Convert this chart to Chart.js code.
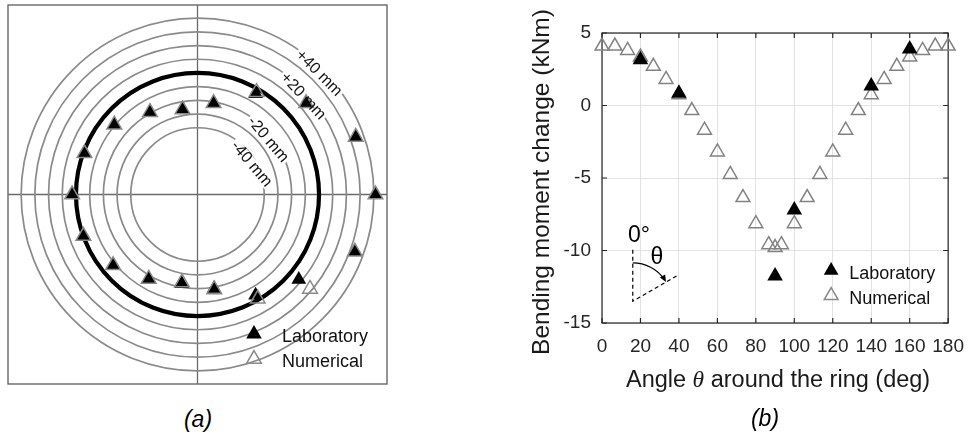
<!DOCTYPE html>
<html lang="en">
<head>
<meta charset="UTF-8">
<title>Ring deformation and bending moment change</title>
<script src="https://cdn.jsdelivr.net/npm/chart.js@4"></script>
<style>
  body { margin: 0; background: #fff; width: 976px; height: 437px; position: relative; overflow: hidden;
         font-family: "Liberation Sans", Arial, sans-serif; }
  #ringChart { position: absolute; left: 0; top: 0; }
  #momentChart { position: absolute; left: 490px; top: 0; }
  .caption { position: absolute; font-style: italic; font-size: 23px; color: #000; transform: translate(-50%, -50%); }
</style>
</head>
<body>
<canvas id="ringChart" width="400" height="400"></canvas>
<canvas id="momentChart" width="486" height="437"></canvas>
<div class="caption" style="left:198px; top:419px">(a)</div>
<div class="caption" style="left:765px; top:418px">(b)</div>

<script>
// ---- (a) ring shape: position round the ring, clockwise from the crown (deg)
const ringAngles = [10, 30, 50, 70, 90, 110, 130, 150, 170, 190, 210, 230, 250, 270, 290, 310, 330, 350];
// radial change of the ring (mm)
const labDeviation = [-21.0, -3.8, 14.8, 34.2, 41.2, 33.5, 7.8, -3.9, -19.0, -22.5, -17.5, -8.3, -0.1, 2.8, -0.9, -9.4, -19.3, -25.7];
const numDeviation = [-21.0, -2.5, 14.8, 34.2, 41.2, 33.5, 18.5, -0.8, -18.3, -23.5, -17.5, -8.3, -0.1, 2.8, -0.9, -9.4, -19.3, -25.7];
// reference rings (mm from the original ring)
const ringLevels = [-40, -30, -20, -10, 0, 10, 20, 30, 40];

// ---- (b) bending moment change vs angle
const numAngle = [0, 6.7, 13.3, 20, 26.7, 33.3, 40, 46.7, 53.3, 60, 66.7, 73.3, 80, 86.7, 90, 93.3,
                  100, 106.7, 113.3, 120, 126.7, 133.3, 140, 146.7, 153.3, 160, 166.7, 173.3, 180];
const numMoment = [4.1, 4.1, 3.8, 3.35, 2.7, 1.8, 0.75, -0.35, -1.7, -3.2, -4.75, -6.35, -8.15, -9.6, -9.8, -9.6,
                   -8.15, -6.35, -4.75, -3.2, -1.7, -0.35, 0.75, 1.8, 2.7, 3.35, 3.8, 4.1, 4.1];
const labAngle = [20, 40, 90, 100, 140, 160];
const labMoment = [3.15, 0.85, -11.75, -7.2, 1.35, 3.9];

Chart.defaults.font.family = '"Liberation Sans", Arial, sans-serif';

// plotted radius of the undeformed ring, same units as the deviations
const baseRadius = 88.7;
const plotHalf = 138.3;

function polarPoint(angle, dev) {
    const r = baseRadius + dev;
    const t = angle * Math.PI / 180;
    return { x: r * Math.sin(t), y: r * Math.cos(t) };
}

function triangle(ctx, x, y, r) {
    ctx.beginPath();
    for (let i = 0; i < 3; i++) {
        const t = i * 2 * Math.PI / 3;
        ctx.lineTo(x + Math.sin(t) * r, y - Math.cos(t) * r);
    }
    ctx.closePath();
}

function legendEntries(ctx, x, y, gap, textX, size) {
    ctx.fillStyle = '#000';
    triangle(ctx, x, y, size + 0.5);
    ctx.fill();
    ctx.strokeStyle = '#8a8a8a';
    ctx.lineWidth = 1.5;
    triangle(ctx, x, y + gap, size);
    ctx.stroke();
    ctx.fillStyle = '#111';
    ctx.font = '18px "Liberation Sans", Arial, sans-serif';
    ctx.textAlign = 'left';
    ctx.textBaseline = 'alphabetic';
    ctx.fillText('Laboratory', textX, y + 8);
    ctx.fillText('Numerical', textX, y + gap + 8);
}

// ring labels sit on their rings, a little inside
const ringTags = [
    { text: '+40 mm', level: 40, at: 45, tilt: 45 },
    { text: '+20 mm', level: 20, at: 47, tilt: 47 },
    { text: '-20 mm', level: -20, at: 52, tilt: 50 },
    { text: '-40 mm', level: -40, at: 60.5, tilt: 50 }
];

const ringDecor = {
    id: 'ringDecor',
    beforeDatasetsDraw(chart) {
        const { ctx, chartArea: a, scales: { x, y } } = chart;
        const cx = x.getPixelForValue(0), cy = y.getPixelForValue(0);
        const k = x.getPixelForValue(1) - cx;
        ctx.save();
        ctx.strokeStyle = '#5c5c5c';
        ctx.lineWidth = 1.3;
        ctx.strokeRect(a.left, a.top, a.width, a.height);
        ctx.strokeStyle = '#6a6a6a';
        ctx.beginPath();
        ctx.moveTo(cx, a.top); ctx.lineTo(cx, a.bottom);
        ctx.moveTo(a.left, cy); ctx.lineTo(a.right, cy);
        ctx.stroke();
        ringLevels.forEach(lv => {
            ctx.beginPath();
            ctx.arc(cx, cy, (baseRadius + lv) * k, 0, 2 * Math.PI);
            ctx.strokeStyle = lv === 0 ? '#000' : '#8a8a8a';
            ctx.lineWidth = lv === 0 ? 4.2 : 1.7;
            ctx.stroke();
        });
        // break the rings under their labels
        ctx.font = '16px "Liberation Sans", Arial, sans-serif';
        ringTags.forEach(tag => {
            const p = polarPoint(tag.at, tag.level - 3.5);
            const w = ctx.measureText(tag.text).width;
            ctx.save();
            ctx.translate(x.getPixelForValue(p.x), y.getPixelForValue(p.y));
            ctx.rotate(tag.tilt * Math.PI / 180);
            ctx.fillStyle = '#fff';
            ctx.fillRect(-w / 2 - 2, -6, w + 4, 12);
            ctx.restore();
        });
        ctx.restore();
    },
    afterDatasetsDraw(chart) {
        const { ctx, chartArea: a, scales: { x, y } } = chart;
        ctx.save();
        ctx.font = '16px "Liberation Sans", Arial, sans-serif';
        ctx.fillStyle = '#111';
        ctx.textAlign = 'center';
        ctx.textBaseline = 'middle';
        ringTags.forEach(tag => {
            const p = polarPoint(tag.at, tag.level - 3.5);
            ctx.save();
            ctx.translate(x.getPixelForValue(p.x), y.getPixelForValue(p.y));
            ctx.rotate(tag.tilt * Math.PI / 180);
            ctx.fillText(tag.text, 0, 0);
            ctx.restore();
        });
        legendEntries(ctx, a.left + 246, a.top + 329, 25, a.left + 274, 8.5);
        ctx.restore();
    }
};

new Chart(document.getElementById('ringChart'), {
    type: 'scatter',
    data: {
        datasets: [{
            label: 'Numerical',
            data: ringAngles.map((ang, i) => polarPoint(ang, numDeviation[i])),
            pointStyle: 'triangle',
            pointRadius: 8.5,
            backgroundColor: 'rgba(255,255,255,0)',
            borderColor: '#8a8a8a',
            borderWidth: 1.5,
            clip: false
        }, {
            label: 'Laboratory',
            data: ringAngles.map((ang, i) => polarPoint(ang, labDeviation[i])),
            pointStyle: 'triangle',
            pointRadius: 8.5,
            backgroundColor: '#000',
            borderWidth: 0,
            clip: false
        }]
    },
    options: {
        responsive: false,
        animation: false,
        events: [],
        layout: { padding: { left: 8, top: 5, right: 13, bottom: 16 }, autoPadding: false },
        plugins: { legend: { display: false }, tooltip: { enabled: false } },
        scales: {
            x: { type: 'linear', min: -plotHalf, max: plotHalf, display: false },
            y: { type: 'linear', min: -plotHalf, max: plotHalf, display: false }
        }
    },
    plugins: [ringDecor]
});

// ---- (b)
const momentDecor = {
    id: 'momentDecor',
    beforeDatasetsDraw(chart) {
        const { ctx, chartArea: a, scales: { x, y } } = chart;
        ctx.save();
        ctx.strokeStyle = '#262626';
        ctx.lineWidth = 1.2;
        ctx.strokeRect(a.left, a.top, a.width, a.height);
        // tick marks point inwards on all four sides
        ctx.beginPath();
        x.ticks.forEach(t => {
            const px = x.getPixelForValue(t.value);
            ctx.moveTo(px, a.bottom); ctx.lineTo(px, a.bottom - 5);
            ctx.moveTo(px, a.top); ctx.lineTo(px, a.top + 5);
        });
        y.ticks.forEach(t => {
            const py = y.getPixelForValue(t.value);
            ctx.moveTo(a.left, py); ctx.lineTo(a.left + 5, py);
            ctx.moveTo(a.right, py); ctx.lineTo(a.right - 5, py);
        });
        ctx.stroke();

        // small sketch of how theta is measured
        const cx = x.getPixelForValue(16), cy = y.getPixelForValue(-13.5);
        const topY = y.getPixelForValue(-9.95);
        const ex = x.getPixelForValue(38.8), ey = y.getPixelForValue(-11.75);
        ctx.strokeStyle = '#000';
        ctx.lineWidth = 1.2;
        ctx.setLineDash([4, 3]);
        ctx.beginPath();
        ctx.moveTo(cx, topY); ctx.lineTo(cx, cy); ctx.lineTo(ex, ey);
        ctx.stroke();
        ctx.setLineDash([]);
        const rad = cy - y.getPixelForValue(-10.85);
        const end = Math.atan2(ey - cy, ex - cx);
        ctx.beginPath();
        ctx.arc(cx, cy, rad, -Math.PI / 2, end - 0.08);
        ctx.stroke();
        const hx = cx + rad * Math.cos(end), hy = cy + rad * Math.sin(end);
        const dx = -Math.sin(end), dy = Math.cos(end);
        ctx.beginPath();
        ctx.moveTo(hx, hy);
        ctx.lineTo(hx - dx * 7 - dy * 3, hy - dy * 7 + dx * 3);
        ctx.lineTo(hx - dx * 7 + dy * 3, hy - dy * 7 - dx * 3);
        ctx.closePath();
        ctx.fillStyle = '#000';
        ctx.fill();
        ctx.font = '23px "Liberation Sans", Arial, sans-serif';
        ctx.textAlign = 'center';
        ctx.textBaseline = 'middle';
        ctx.fillText('0°', x.getPixelForValue(19.2), y.getPixelForValue(-9.0));
        ctx.fillText('θ', x.getPixelForValue(28.6), y.getPixelForValue(-10.5));
        ctx.restore();
    },
    afterDatasetsDraw(chart) {
        const { ctx, chartArea: a } = chart;
        ctx.save();
        // axis titles
        const reg = '23.5px "Liberation Sans", Arial, sans-serif';
        const ita = 'italic 23.5px "Liberation Serif", serif';
        const parts = [['Angle ', reg], ['θ', ita], [' around the ring (deg)', reg]];
        let total = 0;
        parts.forEach(p => { ctx.font = p[1]; total += ctx.measureText(p[0]).width; });
        let tx = (a.left + a.right) / 2 + 3 - total / 2;
        ctx.fillStyle = '#1a1a1a';
        ctx.textAlign = 'left';
        ctx.textBaseline = 'alphabetic';
        parts.forEach(p => {
            ctx.font = p[1];
            ctx.fillText(p[0], tx, a.bottom + 63.5);
            tx += ctx.measureText(p[0]).width;
        });
        ctx.save();
        ctx.translate(a.left - 53, (a.top + a.bottom) / 2 + 4);
        ctx.rotate(-Math.PI / 2);
        ctx.font = '24.5px "Liberation Sans", Arial, sans-serif';
        ctx.textAlign = 'center';
        ctx.fillText('Bending moment change (kNm)', 0, 0);
        ctx.restore();
        legendEntries(ctx, a.right - 117, a.bottom - 52.5, 25, a.right - 99, 8);
        ctx.restore();
    }
};

new Chart(document.getElementById('momentChart'), {
    type: 'scatter',
    data: {
        datasets: [{
            label: 'Laboratory',
            data: labAngle.map((v, i) => ({ x: v, y: labMoment[i] })),
            pointStyle: 'triangle',
            pointRadius: 9,
            backgroundColor: '#000',
            borderWidth: 0,
            clip: false
        }, {
            label: 'Numerical',
            data: numAngle.map((v, i) => ({ x: v, y: numMoment[i] })),
            pointStyle: 'triangle',
            pointRadius: 8,
            backgroundColor: 'rgba(255,255,255,0)',
            borderColor: '#828282',
            borderWidth: 1.5,
            clip: false
        }]
    },
    options: {
        responsive: false,
        animation: false,
        events: [],
        layout: { padding: { left: 0, top: 33, right: 20, bottom: 0 }, autoPadding: false },
        plugins: { legend: { display: false }, tooltip: { enabled: false } },
        scales: {
            x: {
                type: 'linear', min: 0, max: 180,
                ticks: { stepSize: 20, autoSkip: false, maxRotation: 0, padding: 12, color: '#262626', font: { size: 19 } },
                grid: { color: '#e2e2e2', drawTicks: false },
                border: { display: false },
                afterFit: s => { s.height = 114; }
            },
            y: {
                type: 'linear', min: -15, max: 5,
                ticks: { stepSize: 5, padding: 11, color: '#262626', font: { size: 19 } },
                grid: { color: '#e2e2e2', drawTicks: false },
                border: { display: false },
                afterFit: s => { s.width = 112; }
            }
        }
    },
    plugins: [momentDecor]
});
</script>
</body>
</html>
